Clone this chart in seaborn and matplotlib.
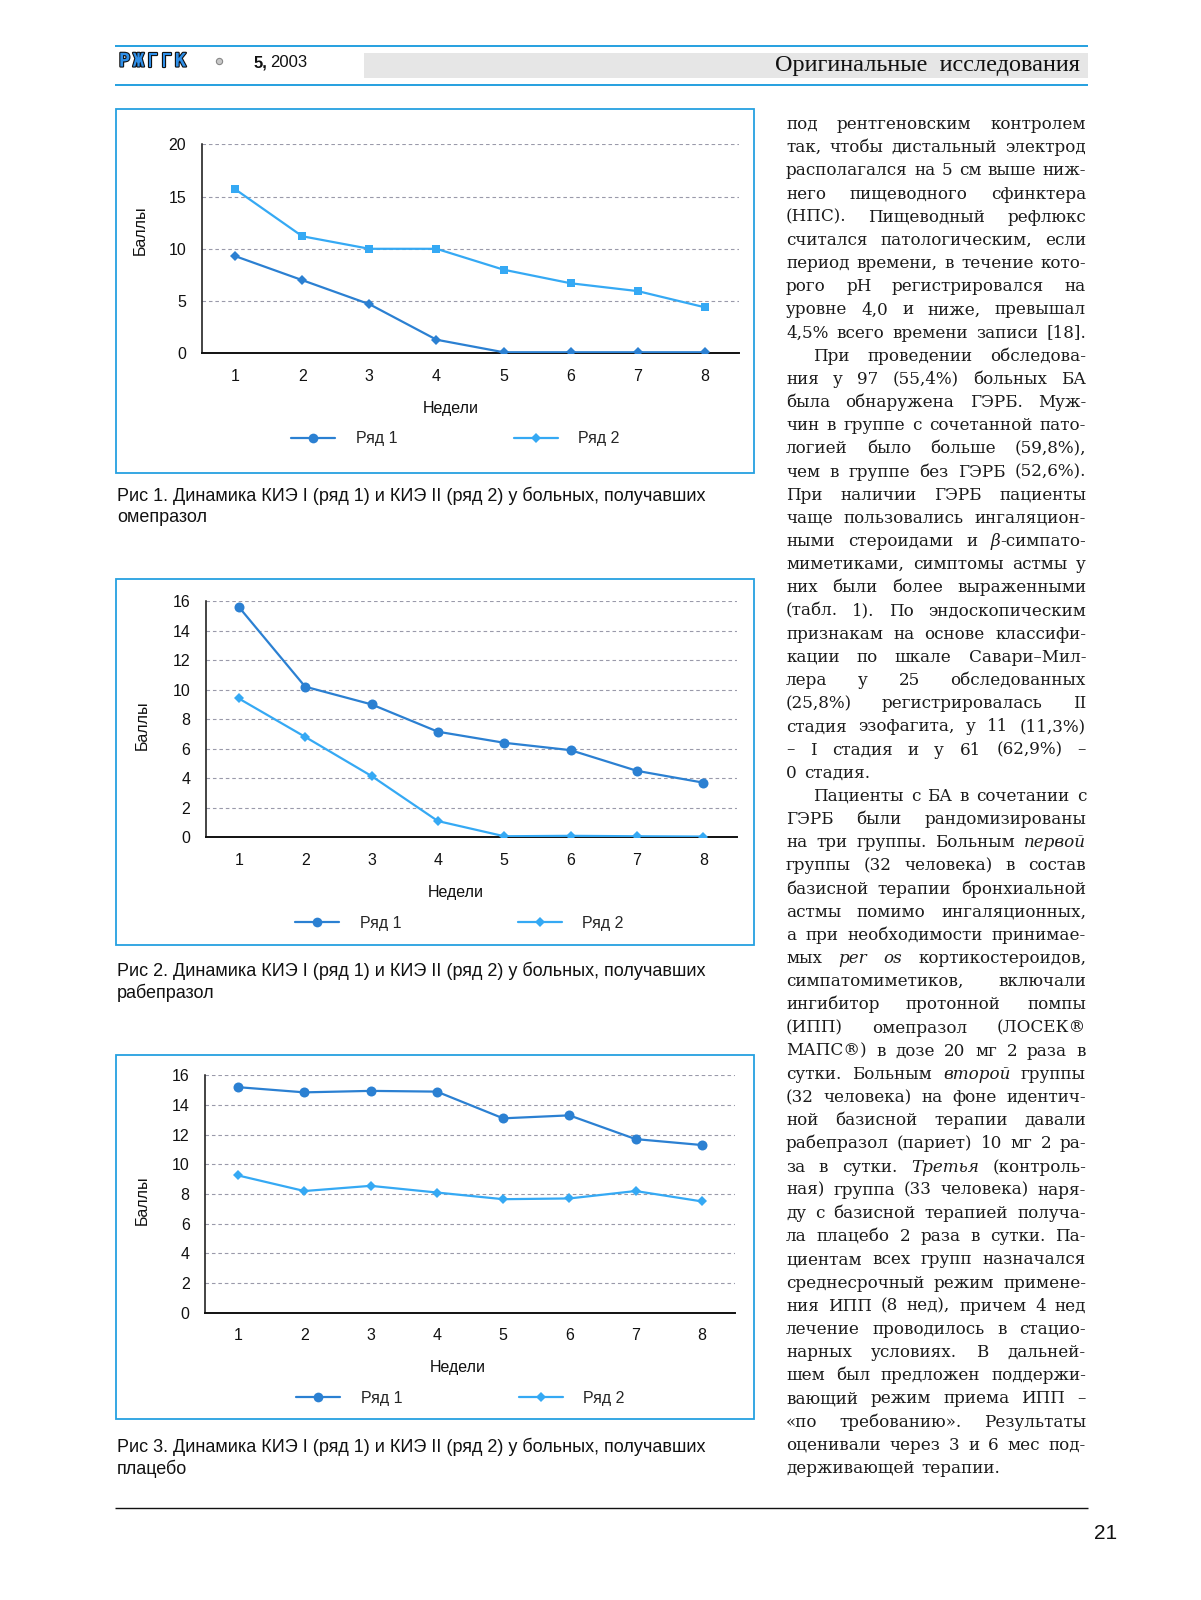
import numpy as np
import pandas as pd
import matplotlib
matplotlib.use('Agg')
import matplotlib.pyplot as plt
import seaborn as sns
from matplotlib.lines import Line2D
from matplotlib.patches import Rectangle
from matplotlib.font_manager import FontProperties
import matplotlib.patheffects as pe

# ---------------- data ----------------
weeks = [1, 2, 3, 4, 5, 6, 7, 8]
week_labels = ['1', '2', '3', '4', '5', '6', '7', '8']
series_names = ['Ряд 1', 'Ряд 2']

fig1_row1 = [9.3, 7.0, 4.7, 1.3, 0.1, 0.1, 0.1, 0.1]
fig1_row2 = [15.7, 11.2, 10.0, 10.0, 8.0, 6.7, 5.95, 4.4]
fig2_row1 = [15.6, 10.2, 9.0, 7.15, 6.4, 5.9, 4.5, 3.7]
fig2_row2 = [9.4, 6.8, 4.15, 1.1, 0.07, 0.1, 0.07, 0.05]
fig3_row1 = [15.2, 14.85, 14.95, 14.9, 13.1, 13.3, 11.7, 11.3]
fig3_row2 = [9.25, 8.2, 8.55, 8.1, 7.65, 7.7, 8.2, 7.5]

yticks1 = [0, 5, 10, 15, 20]
yticks2 = [0, 2, 4, 6, 8, 10, 12, 14, 16]
yticks3 = [0, 2, 4, 6, 8, 10, 12, 14, 16]

x_title = 'Недели'
y_title = 'Баллы'

captions = [
    ['Рис 1. Динамика КИЭ I (ряд 1) и КИЭ II (ряд 2) у больных, получавших', 'омепразол'],
    ['Рис 2. Динамика КИЭ I (ряд 1) и КИЭ II (ряд 2) у больных, получавших', 'рабепразол'],
    ['Рис 3. Динамика КИЭ I (ряд 1) и КИЭ II (ряд 2) у больных, получавших', 'плацебо'],
]

header_logo = 'РЖГГК'
header_issue_bold = '5,'
header_issue_year = '2003'
header_section = 'Оригинальные  исследования'
page_number = '21'

body_lines = [
    "под рентгеновским контролем",
    "так, чтобы дистальный электрод",
    "располагался на 5 см выше ниж-",
    "него пищеводного сфинктера",
    "(НПС). Пищеводный рефлюкс",
    "считался патологическим, если",
    "период времени, в течение кото-",
    "рого pH регистрировался на",
    "уровне 4,0 и ниже, превышал",
    "4,5% всего времени записи [18].",
    "При проведении обследова-",
    "ния у 97 (55,4%) больных БА",
    "была обнаружена ГЭРБ. Муж-",
    "чин в группе с сочетанной пато-",
    "логией было больше (59,8%),",
    "чем в группе без ГЭРБ (52,6%).",
    "При наличии ГЭРБ пациенты",
    "чаще пользовались ингаляцион-",
    "ными стероидами и *β*-симпато-",
    "миметиками, симптомы астмы у",
    "них были более выраженными",
    "(табл. 1). По эндоскопическим",
    "признакам на основе классифи-",
    "кации по шкале Савари–Мил-",
    "лера у 25 обследованных",
    "(25,8%) регистрировалась II",
    "стадия эзофагита, у 11 (11,3%)",
    "– I стадия и у 61 (62,9%) –",
    "0 стадия.",
    "Пациенты с БА в сочетании с",
    "ГЭРБ были рандомизированы",
    "на три группы. Больным *первой*",
    "группы (32 человека) в состав",
    "базисной терапии бронхиальной",
    "астмы помимо ингаляционных,",
    "а при необходимости принимае-",
    "мых *per* *os* кортикостероидов,",
    "симпатомиметиков, включали",
    "ингибитор протонной помпы",
    "(ИПП) омепразол (ЛОСЕК®",
    "МАПС®) в дозе 20 мг 2 раза в",
    "сутки. Больным *второй* группы",
    "(32 человека) на фоне идентич-",
    "ной базисной терапии давали",
    "рабепразол (париет) 10 мг 2 ра-",
    "за в сутки. *Третья* (контроль-",
    "ная) группа (33 человека) наря-",
    "ду с базисной терапией получа-",
    "ла плацебо 2 раза в сутки. Па-",
    "циентам всех групп назначался",
    "среднесрочный режим примене-",
    "ния ИПП (8 нед), причем 4 нед",
    "лечение проводилось в стацио-",
    "нарных условиях. В дальней-",
    "шем был предложен поддержи-",
    "вающий режим приема ИПП –",
    "«по требованию». Результаты",
    "оценивали через 3 и 6 мес под-",
    "держивающей терапии.",
]
indent_lines = [10, 29]
para_end_lines = [28, 58]

# ---------------- style ----------------
sns.set_style('white')
plt.rcParams['font.family'] = ['Liberation Sans', 'DejaVu Sans']

C1 = '#2b80d2'
C2 = '#35a9f4'
BOX = '#25a0e0'
GRID = '#9a9aaa'

W, H = 1201, 1600
fig = plt.figure(figsize=(W / 100, H / 100), dpi=100)
page = fig.add_axes([0, 0, 1, 1], zorder=0)
page.set_xlim(0, W)
page.set_ylim(H, 0)
page.axis('off')


def rect(l, t, r, b):
    return [l / W, 1 - b / H, (r - l) / W, (b - t) / H]


# ---------------- header ----------------
page.plot([115, 1088], [46, 46], color=BOX, lw=1.4, solid_capstyle='butt')
page.plot([115, 1088], [85, 85], color=BOX, lw=1.4, solid_capstyle='butt')
page.add_patch(Rectangle((364, 53), 1088 - 364, 25, facecolor='#e6e6e6', edgecolor='none'))
for i, ch in enumerate(header_logo):
    page.text(124.5 + i * 14, 66.5, ch, family='DejaVu Sans Mono', fontweight='bold',
              fontsize=13.5, color='#2f8fe8', ha='center', va='baseline',
              path_effects=[pe.withStroke(linewidth=1.6, foreground='#111111')])
page.plot([219], [61], marker='o', ms=4.5, mfc='#c8c8c8', mec='#888888', mew=0.8)
page.text(254, 67, header_issue_bold, fontsize=12, fontweight='bold', ha='left', va='baseline', color='#111')
page.text(270, 67, header_issue_year, fontsize=12, ha='left', va='baseline', color='#111')
page.text(1080, 71, header_section, family='Liberation Serif', fontsize=17.5, ha='right', va='baseline', color='#111')

# bottom rule and page number
page.plot([115, 1088], [1508, 1508], color='#111111', lw=1.0, solid_capstyle='butt')
page.text(1106, 1539, page_number, fontsize=15, ha='center', va='baseline', color='#111')

# ---------------- charts ----------------
charts = [
    dict(box=(116, 109, 754, 473), ax=(201.6, 144.3, 738.5, 353.3), r1=fig1_row1, r2=fig1_row2,
         m1='D', ms1=4.8, m2='s', ms2=5.8, ymax=20, yt=yticks1,
         ylab=(140, 230), xlab=(451, 408), leg=(291, 439), cap=501),
    dict(box=(116, 579, 754, 945), ax=(205.6, 601.0, 736.5, 837.3), r1=fig2_row1, r2=fig2_row2,
         m1='o', ms1=7.2, m2='D', ms2=5.2, ymax=16, yt=yticks2,
         ylab=(142, 725), xlab=(456, 893), leg=(295, 923.5), cap=976),
    dict(box=(116, 1055, 754, 1419), ax=(205.0, 1075.3, 735.0, 1312.7), r1=fig3_row1, r2=fig3_row2,
         m1='o', ms1=7.2, m2='D', ms2=5.2, ymax=16, yt=yticks3,
         ylab=(142, 1200), xlab=(457.4, 1367.7), leg=(296, 1398), cap=1452),
]

for ci, ch in enumerate(charts):
    bl, bt, br, bb = ch['box']
    page.add_patch(Rectangle((bl, bt), br - bl, bb - bt, facecolor='none', edgecolor=BOX, lw=1.3))
    al, at, ar, ab = ch['ax']
    ax = fig.add_axes(rect(al, at, ar, ab), zorder=2)
    ax.patch.set_alpha(0)
    df = pd.DataFrame({'week': weeks, 'r1': ch['r1'], 'r2': ch['r2']})
    sns.lineplot(data=df, x='week', y='r1', ax=ax, color=C1, lw=1.6, marker=ch['m1'],
                 markersize=ch['ms1'], markeredgewidth=0, zorder=4)
    sns.lineplot(data=df, x='week', y='r2', ax=ax, color=C2, lw=1.6, marker=ch['m2'],
                 markersize=ch['ms2'], markeredgewidth=0, zorder=4)
    ax.set_xlim(0.5, 8.5)
    ax.set_ylim(0, ch['ymax'])
    ax.set_xticks(weeks)
    ax.set_xticklabels(week_labels)
    ax.set_xticks(np.arange(0.5, 9.0, 1.0), minor=True)
    ax.set_yticks(ch['yt'])
    ax.set_yticklabels([str(v) for v in ch['yt']])
    ax.tick_params(axis='x', which='major', length=0, pad=11, labelsize=11.5, labelcolor='#111')
    ax.tick_params(axis='x', which='minor', length=6, width=1.2, color='#111', direction='out')
    ax.tick_params(axis='y', length=5.5, width=0.9, color=GRID, pad=5.5, labelsize=11.5, labelcolor='#111')
    ax.yaxis.grid(True, color=GRID, lw=0.8, ls=(0, (3.2, 2.6)))
    ax.xaxis.grid(False)
    ax.set_axisbelow(True)
    for s in ['top', 'right']:
        ax.spines[s].set_visible(False)
    ax.spines['left'].set_color('#111')
    ax.spines['left'].set_linewidth(1.1)
    ax.spines['bottom'].set_color('#111')
    ax.spines['bottom'].set_linewidth(1.4)
    aw, ah = ar - al, ab - at
    ax.set_xlabel(x_title, fontsize=11.5, color='#111')
    ax.set_ylabel(y_title, fontsize=11.5, color='#111')
    ax.xaxis.set_label_coords((ch['xlab'][0] - al) / aw, (ab - ch['xlab'][1]) / ah)
    ax.xaxis.label.set_va('center')
    ax.yaxis.set_label_coords((ch['ylab'][0] - al) / aw, (ab - ch['ylab'][1]) / ah)
    ax.yaxis.label.set_va('center')
    handles = [Line2D([], [], color=C1, lw=1.6, marker='o', ms=7, mew=0),
               Line2D([], [], color=C2, lw=1.6, marker='D', ms=5, mew=0)]
    lx, ly = ch['leg']
    ax.legend(handles, series_names, loc='center left', bbox_to_anchor=(lx / W, 1 - ly / H),
              bbox_transform=fig.transFigure, ncol=2, frameon=False, fontsize=11.5,
              handlelength=2.75, handletextpad=1.3, columnspacing=7.3, borderpad=0, borderaxespad=0)
    page.text(117, ch['cap'], captions[ci][0], fontsize=13, ha='left', va='baseline', color='#111')
    page.text(117, ch['cap'] + 21.5, captions[ci][1], fontsize=13, ha='left', va='baseline', color='#111')

# ---------------- body text column (justified) ----------------
renderer = fig.canvas.get_renderer()
BODY_FAMILY = 'DejaVu Serif'
BODY_SIZE = 12.1
fp_n = FontProperties(family=BODY_FAMILY, size=BODY_SIZE)
fp_i = FontProperties(family=BODY_FAMILY, size=BODY_SIZE, style='italic')


def seg_width(s, italic):
    w, h, d = renderer.get_text_width_height_descent(s, fp_i if italic else fp_n, ismath=False)
    return w


def parse_word(word):
    parts = word.split('*')
    return [(p, i % 2 == 1) for i, p in enumerate(parts) if p]


COL_L, COL_R = 786, 1086
BASE0, LEAD = 129, 23.17
INDENT = 27
space_w = seg_width(' ', False)
for li, line in enumerate(body_lines):
    words = [parse_word(w) for w in line.split(' ') if w]
    widths = [sum(seg_width(s, it) for s, it in wd) for wd in words]
    x0 = COL_L + (INDENT if li in indent_lines else 0)
    avail = COL_R - x0
    if li in para_end_lines or len(words) == 1:
        gap = space_w * 1.3
    else:
        gap = (avail - sum(widths)) / (len(words) - 1)
    y = BASE0 + li * LEAD
    x = x0
    for wd, wtot in zip(words, widths):
        xs = x
        for s, it in wd:
            page.text(xs, y, s, family=BODY_FAMILY, fontsize=BODY_SIZE,
                      style='italic' if it else 'normal', ha='left', va='baseline', color='#1a1a1a')
            xs += seg_width(s, it)
        x += wtot + gap

fig.savefig('out.png', dpi=100)
